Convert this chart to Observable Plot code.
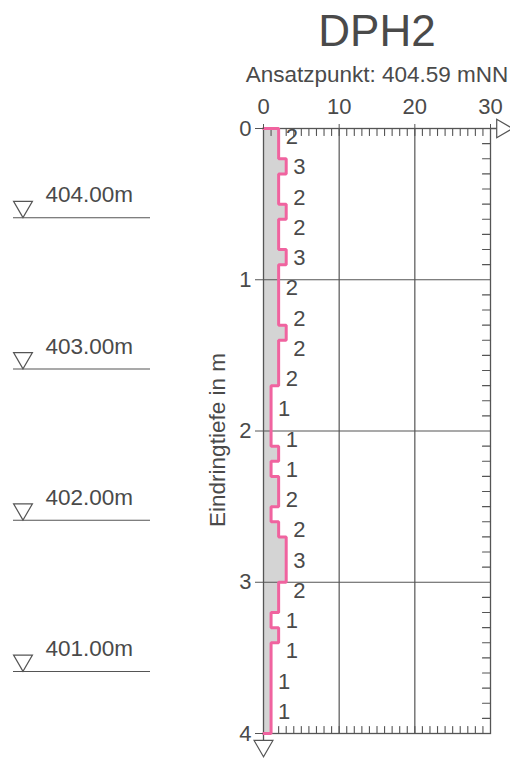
<!DOCTYPE html>
<html><head><meta charset="utf-8">
<script src="https://cdn.jsdelivr.net/npm/d3@7"></script>
<script src="https://cdn.jsdelivr.net/npm/@observablehq/plot@0.6"></script>
<style>
html,body{margin:0;padding:0;background:#fff;}
#wrap{position:relative;width:510px;height:760px;}
#wrap svg{position:absolute;left:0;top:0;}
</style></head><body><div id="wrap"></div>
<script>
// ---- data ----
const title = "DPH2";
const ansatzLabel = "Ansatzpunkt: 404.59 mNN";
const ansatz = 404.59;
const stepSize = 0.1; // m per blow-count interval
const blows = [2,2,3,2,2,3,2,2,3,2, 2,2,2,3,2,2,2,1,1,1, 1,2,1,2,2,1,2,3,3,3, 2,2,1,2,1,1,1,1,1,1];
const xTicks = [0,10,20,30];
const yTicks = [0,1,2,3,4];
const xGrid = [10,20];
const yGrid = [1,2,3];
const elevations = [404, 403, 402, 401];
const yLabel = "Eindringtiefe in m";

// ---- derived ----
const segs = blows.map((v,i)=>({v, i, top: i*stepSize, bot: (i+1)*stepSize}));
const path = [{x:0,y:segs[0].top}, ...segs.flatMap(s=>[{x:s.v,y:s.top},{x:s.v,y:s.bot}]), {x:0,y:segs[segs.length-1].bot}];
const labels = segs.filter(s=>s.i%2===0).map(s=>({
  v: s.v, y: (s.top+s.bot)/2,
  xPos: Math.max(blows[s.i-1] ?? 0, blows[s.i], blows[s.i+1] ?? 0)
}));
const xMinor = d3.range(xTicks[0]+1, xTicks[xTicks.length-1]);
const yMinor = d3.range(1, 40).map(i=>i*stepSize).filter(d=>Math.abs(d-Math.round(d))>1e-6);

const font = "'Liberation Sans', Arial, sans-serif";
const ink = "#555";
const txt = "#4a4a4a";
const tickShape = {draw(ctx, l){ ctx.moveTo(0,0); ctx.lineTo(0,-l); }};
const xMax = xTicks[xTicks.length-1], yMax = yTicks[yTicks.length-1];

const main = Plot.plot({
  width: 510, height: 760,
  marginLeft: 263, marginRight: 20, marginTop: 128, marginBottom: 27,
  style: {background: "transparent", fontFamily: font, overflow: "visible"},
  x: {domain: [0, xMax], axis: null},
  y: {domain: [0, yMax], reverse: true, axis: null},
  marks: [
    Plot.areaX(path, {y: "y", x1: 0, x2: "x", fill: "#d4d4d4"}),
    Plot.gridX(xGrid, {stroke: ink, strokeOpacity: 1, strokeWidth: 1.2}),
    Plot.gridY(yGrid, {stroke: ink, strokeOpacity: 1, strokeWidth: 1.2}),
    Plot.frame({stroke: ink, strokeWidth: 1.3}),
    Plot.vector(xMinor, {x: d=>d, frameAnchor: "top", length: 7, rotate: 180, anchor: "start", shape: tickShape, stroke: ink, strokeWidth: 1.1}),
    Plot.vector(xMinor, {x: d=>d, frameAnchor: "bottom", length: 7, rotate: 0, anchor: "start", shape: tickShape, stroke: ink, strokeWidth: 1.1}),
    Plot.vector(yMinor, {y: d=>d, frameAnchor: "right", length: 8, rotate: -90, anchor: "start", shape: tickShape, stroke: ink, strokeWidth: 1.1}),
    // connectors to arrow heads
    Plot.vector([xMax], {x: d=>d, y: 0, length: 7, rotate: 90, anchor: "start", shape: tickShape, stroke: ink, strokeWidth: 1.3}),
    Plot.vector([0], {x: 0, y: yMax, length: 7, rotate: 180, anchor: "start", shape: tickShape, stroke: ink, strokeWidth: 1.3}),
    Plot.dot([xMax], {x: d=>d, y: 0, dx: 11.5, symbol: "triangle", rotate: 90, r: 6.8, stroke: ink, fill: "white", strokeWidth: 1.2}),
    Plot.dot([yMax], {x: 0, y: d=>d, dy: 12.4, symbol: "triangle", rotate: 180, r: 7, stroke: ink, fill: "white", strokeWidth: 1.2}),
    Plot.line(path, {x: "x", y: "y", stroke: "#f0639f", strokeWidth: 3, strokeLinejoin: "miter"}),
    Plot.text(labels, {x: "xPos", y: "y", text: d=>String(d.v), dx: 7, dy: 1, textAnchor: "start", lineAnchor: "middle", fontSize: 22, fill: txt}),
    Plot.axisX({anchor: "top", ticks: xTicks, tickSize: 5, tickPadding: 10, fontSize: 22, stroke: ink, fill: txt, label: null}),
    Plot.axisY({anchor: "left", ticks: yTicks, tickFormat: d3.format("d"), tickSize: 8, tickPadding: 4, fontSize: 22, stroke: ink, fill: txt, label: null}),
    Plot.text([yLabel], {text: d=>d, frameAnchor: "left", textAnchor: "middle", rotate: -90, dx: -46, dy: 9, fontSize: 22.5, fill: txt, lineAnchor: "middle"}),
    Plot.text([title], {text: d=>d, frameAnchor: "top", dy: -97, fontSize: 44, fill: txt, lineAnchor: "middle"}),
    Plot.text([ansatzLabel], {text: d=>d, frameAnchor: "top", dy: -54, fontSize: 22.5, fill: txt, lineAnchor: "middle"})
  ]
});

const side = Plot.plot({
  width: 165, height: 760,
  marginLeft: 13, marginRight: 15, marginTop: 128, marginBottom: 27,
  style: {background: "transparent", fontFamily: font, overflow: "visible"},
  x: {domain: [0,1], axis: null},
  y: {domain: [0, yMax], reverse: true, axis: null},
  marks: [
    Plot.ruleY(elevations, {y: d=>ansatz-d, stroke: ink, strokeWidth: 1.2}),
    Plot.dot(elevations, {y: d=>ansatz-d, frameAnchor: "left", dx: 9.5, dy: -11, symbol: "triangle", rotate: 180, r: 7, stroke: ink, fill: "white", strokeWidth: 1.2}),
    Plot.text(elevations, {y: d=>ansatz-d, text: d=>d.toFixed(2)+"m", frameAnchor: "left", dx: 32, dy: -22.5, textAnchor: "start", lineAnchor: "middle", fontSize: 22.5, fill: txt})
  ]
});

const wrap = document.getElementById("wrap");
wrap.appendChild(side);
wrap.appendChild(main);
</script></body></html>
